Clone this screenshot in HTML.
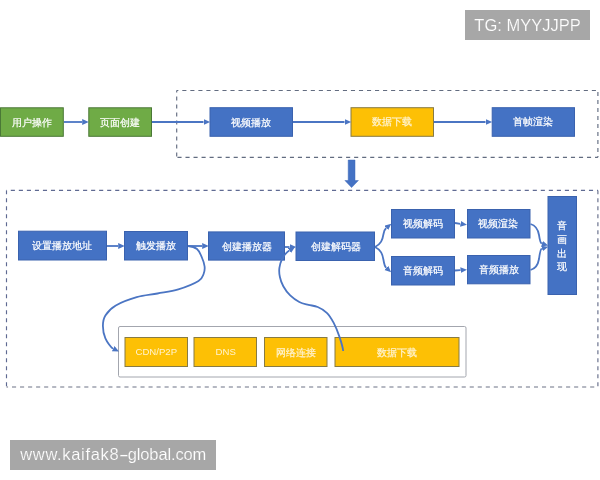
<!DOCTYPE html>
<html lang="zh">
<head>
<meta charset="utf-8">
<title>播放流程</title>
<style>
html,body{margin:0;padding:0;background:#fff;}
#pg{position:absolute;left:-10px;top:-10px;width:620px;height:500px;background:#fff;filter:blur(0.4px);}
#in{position:absolute;left:10px;top:10px;width:600px;height:480px;}
body{width:600px;height:480px;position:relative;overflow:hidden;font-family:"Liberation Sans",sans-serif;}
svg{position:absolute;left:0;top:0;}
.b{position:absolute;display:flex;align-items:center;justify-content:center;color:#fff;font-size:10.4px;line-height:1;white-space:nowrap;-webkit-text-stroke:0.2px #fff;}
.yt{color:#fff3d0;-webkit-text-stroke:0.2px #fff3d0;}
.en{font-size:9.6px;-webkit-text-stroke:0;}
.v{flex-direction:column;line-height:13.75px;}
.wm{position:absolute;background:#a7a7a7;color:#fff;-webkit-text-stroke:0.18px #a7a7a7;display:flex;align-items:center;justify-content:center;white-space:nowrap;}
</style>
</head>
<body>
<div id="pg"><div id="in">
<svg width="600" height="480" viewBox="0 0 600 480">
  <defs>
    <marker id="ah" markerUnits="userSpaceOnUse" markerWidth="8" markerHeight="8" refX="-0.2" refY="2.9" orient="auto">
      <path d="M0,0 L6.5,2.9 L0,5.8 Z" fill="#4b75c3"/>
    </marker>
  </defs>
  <g stroke="#626c80" stroke-width="1.15" fill="none">
    <path d="M176.7,90.5 H597.9" stroke-dasharray="4.1 3.93" stroke-dashoffset="2.43"/>
    <path d="M176.7,90.5 V157.3" stroke-dasharray="4.1 3.9" stroke-dashoffset="2"/>
    <path d="M176.7,157.3 H597.9" stroke-dasharray="4.1 3.93" stroke-dashoffset="7.27"/>
    <path d="M597.9,90.5 V157.3" stroke-dasharray="4.1 3.9" stroke-dashoffset="6.5"/>
  </g>
  <g stroke="#5f6a92" stroke-width="1.15" fill="none">
    <path d="M6.5,190.4 H597.9" stroke-dasharray="4.1 3.93" stroke-dashoffset="3.73"/>
    <path d="M6.5,190.4 V387" stroke-dasharray="4.1 3.9" stroke-dashoffset="0.2"/>
    <path d="M6.5,387 H597.9" stroke="#6c7285" stroke-dasharray="4.1 3.93" stroke-dashoffset="2.53"/>
    <path d="M597.9,190.4 V387" stroke="#656d8a" stroke-dasharray="4.1 3.9" stroke-dashoffset="0.2"/>
  </g>
  <rect x="118.5" y="326.5" width="347.5" height="50.5" rx="1.5" fill="#fff" stroke="#a3a6ae" stroke-width="1"/>
  <rect x="0.5" y="107.8" width="62.8" height="28.5" fill="#6fab46" stroke="#4a7836" stroke-width="1"/>
  <rect x="88.8" y="107.8" width="62.7" height="28.5" fill="#6fab46" stroke="#4a7836" stroke-width="1"/>
  <rect x="210.0" y="107.7" width="82.5" height="28.6" fill="#4472c4" stroke="#3a62ae" stroke-width="1"/>
  <rect x="351.0" y="107.7" width="82.5" height="28.6" fill="#fdc005" stroke="#877b44" stroke-width="1"/>
  <rect x="492.2" y="107.7" width="82.3" height="28.6" fill="#4472c4" stroke="#3a62ae" stroke-width="1"/>
  <rect x="18.5" y="231.2" width="88.0" height="28.8" fill="#4472c4" stroke="#3a62ae" stroke-width="1"/>
  <rect x="124.5" y="231.5" width="63.0" height="28.5" fill="#4472c4" stroke="#3a62ae" stroke-width="1"/>
  <rect x="208.5" y="231.9" width="76.0" height="28.2" fill="#4472c4" stroke="#3a62ae" stroke-width="1"/>
  <rect x="296.0" y="232.0" width="78.5" height="28.5" fill="#4472c4" stroke="#3a62ae" stroke-width="1"/>
  <rect x="391.5" y="209.5" width="63.0" height="28.5" fill="#4472c4" stroke="#3a62ae" stroke-width="1"/>
  <rect x="467.5" y="209.5" width="62.5" height="28.5" fill="#4472c4" stroke="#3a62ae" stroke-width="1"/>
  <rect x="391.5" y="256.5" width="63.0" height="28.5" fill="#4472c4" stroke="#3a62ae" stroke-width="1"/>
  <rect x="467.5" y="255.5" width="62.5" height="28.3" fill="#4472c4" stroke="#3a62ae" stroke-width="1"/>
  <rect x="548.0" y="196.5" width="28.5" height="98.0" fill="#4472c4" stroke="#3a62ae" stroke-width="1"/>
  <rect x="125.0" y="337.5" width="62.5" height="29.0" fill="#fdc005" stroke="#877b44" stroke-width="1"/>
  <rect x="194.0" y="337.5" width="62.5" height="29.0" fill="#fdc005" stroke="#877b44" stroke-width="1"/>
  <rect x="264.5" y="337.5" width="62.5" height="29.0" fill="#fdc005" stroke="#877b44" stroke-width="1"/>
  <rect x="335.0" y="337.5" width="124.0" height="29.0" fill="#fdc005" stroke="#877b44" stroke-width="1"/>
  <g stroke="#4b75c3" stroke-width="1.8" fill="none">
    <path d="M64,122 H82" marker-end="url(#ah)"/>
    <path d="M152,122 H203.5" marker-end="url(#ah)"/>
    <path d="M293,122 H344.5" marker-end="url(#ah)"/>
    <path d="M434,122 H485.5" marker-end="url(#ah)"/>
    <path d="M107,246 H118" marker-end="url(#ah)"/>
    <path d="M188,246 H202" marker-end="url(#ah)"/>
    <path d="M285,247 H289.5" marker-end="url(#ah)"/>
    <path d="M455,223 L460.3,223.8" marker-end="url(#ah)"/>
    <path d="M455,270.5 L460.3,270.2" marker-end="url(#ah)"/>
    <path d="M375,247 C381,244 382.5,240 383.5,234 C384.2,230.5 385,229 386.2,228" marker-end="url(#ah)"/>
    <path d="M375,247 C381,250 382.5,254 383.5,260 C384.2,264.5 385,266.7 386.2,267.8" marker-end="url(#ah)"/>
    <path d="M530.5,224 C536,225.5 538,229 539,235 C539.8,240.5 540.4,243.2 541.8,243.6" marker-end="url(#ah)"/>
    <path d="M530.5,270 C536,268.5 538,265 539,259 C539.8,253 540.4,249 541.8,248.6" marker-end="url(#ah)"/>
    <path d="M188.0,246.0 C191.3,246.3 194.7,247.2 197.0,249.0 C199.3,250.8 200.4,254.1 201.7,257.0 C203.0,259.9 204.3,263.7 204.6,266.5 C204.9,269.3 204.6,271.6 203.6,274.0 C202.6,276.4 202.7,278.4 198.5,281.0 C194.3,283.6 185.1,287.3 178.3,289.4 C171.5,291.5 164.4,292.2 157.5,293.5 C150.6,294.8 143.6,295.2 136.7,297.2 C129.8,299.2 121.0,302.5 115.8,305.5 C110.6,308.5 107.6,312.0 105.4,315.4 C103.2,318.8 102.9,322.2 102.9,326.0 C102.9,329.8 103.7,334.5 105.4,338.3 C107.1,342.1 111.0,347.6 113.0,348.6" marker-end="url(#ah)"/>
    <path d="M343.2,351.0 C342.9,348.3 341.0,341.3 339.4,336.6 C337.8,331.9 335.8,326.9 333.7,322.9 C331.6,318.9 329.5,315.4 326.8,312.8 C324.1,310.2 320.8,308.3 317.7,307.0 C314.6,305.7 311.6,305.6 308.5,304.8 C305.4,304.0 302.4,303.6 299.3,302.0 C296.2,300.4 292.9,298.0 290.2,295.4 C287.5,292.8 285.0,289.3 283.3,286.2 C281.6,283.1 280.5,280.1 279.9,277.0 C279.2,273.9 279.0,270.9 279.4,267.9 C279.8,264.8 281.1,261.1 282.2,258.7 C283.3,256.3 284.8,254.7 286.0,253.3 C287.2,252.0 287.9,251.5 289.3,250.6" marker-end="url(#ah)"/>
  </g>
  <path d="M348.2,160 H355 V180.5 H358.4 L351.6,187.6 L344.9,180.5 H348.2 Z" fill="#4472c4" stroke="#3f69b8" stroke-width="0.5"/>
</svg>
<div class="b " style="left:0.0px;top:108.3px;width:63.8px;height:29.5px;">用户操作</div>
<div class="b " style="left:88.3px;top:108.3px;width:63.7px;height:29.5px;">页面创建</div>
<div class="b " style="left:209.5px;top:108.2px;width:83.5px;height:29.6px;">视频播放</div>
<div class="b yt" style="left:350.5px;top:107.2px;width:83.5px;height:29.6px;">数据下载</div>
<div class="b " style="left:491.7px;top:107.2px;width:83.3px;height:29.6px;">首帧渲染</div>
<div class="b " style="left:17.5px;top:231.7px;width:89.0px;height:29.8px;">设置播放地址</div>
<div class="b " style="left:124.0px;top:231.0px;width:64.0px;height:29.5px;">触发播放</div>
<div class="b " style="left:208.0px;top:232.4px;width:77.0px;height:29.2px;">创建播放器</div>
<div class="b " style="left:296.0px;top:232.5px;width:79.5px;height:29.5px;">创建解码器</div>
<div class="b " style="left:391.0px;top:209.0px;width:64.0px;height:29.5px;">视频解码</div>
<div class="b " style="left:466.0px;top:209.0px;width:63.5px;height:29.5px;">视频渲染</div>
<div class="b " style="left:391.0px;top:256.0px;width:64.0px;height:29.5px;">音频解码</div>
<div class="b " style="left:467.5px;top:256.0px;width:63.5px;height:29.3px;">音频播放</div>
<div class="b v" style="left:547.5px;top:197.0px;width:29.5px;height:99.0px;"><span>音</span><span>画</span><span>出</span><span>现</span></div>
<div class="b yt en" style="left:124.5px;top:337.0px;width:63.5px;height:30.0px;">CDN/P2P</div>
<div class="b yt en" style="left:194.0px;top:337.0px;width:63.5px;height:30.0px;">DNS</div>
<div class="b yt" style="left:264.0px;top:338.0px;width:63.5px;height:30.0px;">网络连接</div>
<div class="b yt" style="left:334.5px;top:338.0px;width:125.0px;height:30.0px;">数据下载</div>
<div class="wm" style="left:465px;top:10px;width:125px;height:30px;font-size:16.5px;">TG: MYYJJPP</div>
<div class="wm" style="left:10px;top:440px;width:205.5px;height:29.5px;font-size:16.5px;padding-left:1px;box-sizing:border-box;"><span style="letter-spacing:0.66px;">www.kaifak8</span><span style="display:inline-block;transform:scaleX(1.85);margin:0 1.7px 0 1.3px;">-</span><span style="letter-spacing:-0.13px;">global.com</span></div>
</div></div>
</body>
</html>
